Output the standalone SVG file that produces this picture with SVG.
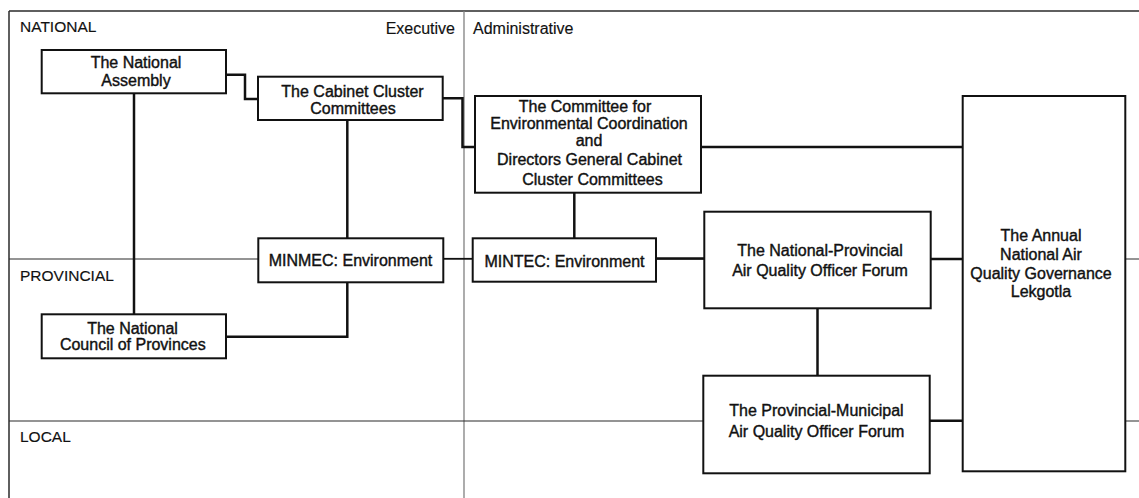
<svg xmlns="http://www.w3.org/2000/svg" width="1139" height="498" viewBox="0 0 1139 498">
  <style>
    .frame { stroke: #2a2a2a; stroke-width: 1.5; fill: none; }
    .row { stroke: #2a2a2a; stroke-width: 1.2; fill: none; }
    .divider { stroke: #808080; stroke-width: 1.3; fill: none; }
    .box { fill: #ffffff; stroke: #111111; stroke-width: 2; }
    .conn { stroke: #111111; stroke-width: 2.5; fill: none; }
    .stub { stroke: #111111; stroke-width: 1.6; fill: none; }
    .lbl { font-family: "Liberation Sans", Arial, sans-serif; font-size: 15.5px; fill: #111111; stroke: #111111; stroke-width: 0.15; }
    .lbl16 { font-family: "Liberation Sans", Arial, sans-serif; font-size: 16px; fill: #111111; stroke: #111111; stroke-width: 0.15; }
    .t { font-family: "Liberation Sans", Arial, sans-serif; font-size: 16px; fill: #111111; stroke: #111111; stroke-width: 0.4; text-anchor: middle; }
  </style>
  <rect x="0" y="0" width="1139" height="498" fill="#ffffff"/>

  <g id="frame">
    <line class="frame" x1="9" y1="11" x2="1139" y2="11"/>
    <line class="frame" x1="9" y1="11" x2="9" y2="498"/>
    <line class="divider" x1="464" y1="11" x2="464" y2="498"/>
    <line class="row" x1="9" y1="259" x2="1139" y2="259"/>
    <line class="row" x1="9" y1="421" x2="1139" y2="421"/>
    <text class="lbl" x="20" y="32.3">NATIONAL</text>
    <text class="lbl16" x="455" y="34.3" text-anchor="end">Executive</text>
    <text class="lbl16" x="473" y="34.3">Administrative</text>
    <text class="lbl" x="20" y="281">PROVINCIAL</text>
    <text class="lbl" x="20" y="441.7">LOCAL</text>
  </g>

  <g id="connectors">
    <polyline class="conn" points="226,74.7 245,74.7 245,99 258,99"/>
    <polyline class="conn" points="443,98.3 462.5,98.3 462.5,147 475,147"/>
    <line class="conn" x1="701" y1="147" x2="963" y2="147"/>
    <line class="conn" x1="134" y1="93" x2="134" y2="314"/>
    <line class="conn" x1="347.3" y1="120" x2="347.3" y2="238.3"/>
    <polyline class="conn" points="347.3,282.3 347.3,336.7 226,336.7"/>
    <line class="stub" x1="443" y1="258.7" x2="473" y2="258.7"/>
    <line class="conn" x1="574.3" y1="192.7" x2="574.3" y2="238.3"/>
    <line class="conn" x1="656" y1="258.5" x2="704.5" y2="258.5"/>
    <line class="conn" x1="930.5" y1="259" x2="963" y2="259"/>
    <line class="conn" x1="817.5" y1="308.5" x2="817.5" y2="376"/>
    <line class="conn" x1="929.5" y1="420.8" x2="963" y2="420.8"/>
  </g>

  <g id="national-assembly">
    <rect class="box" x="41.7" y="50" width="184.3" height="43.3"/>
    <text class="t" x="136" y="67.7">The National</text>
    <text class="t" x="136" y="85.5">Assembly</text>
  </g>

  <g id="cabinet-cluster">
    <rect class="box" x="258" y="76.7" width="184.7" height="43.3"/>
    <text class="t" x="352.5" y="96.7">The Cabinet Cluster</text>
    <text class="t" x="353" y="114.3">Committees</text>
  </g>

  <g id="committee-environmental-coordination">
    <rect class="box" x="475" y="96" width="226" height="96.7"/>
    <text class="t" x="585" y="112.3">The Committee for</text>
    <text class="t" x="589" y="129.3">Environmental Coordination</text>
    <text class="t" x="589" y="146">and</text>
    <text class="t" x="589.5" y="165">Directors General Cabinet</text>
    <text class="t" x="592.5" y="185">Cluster Committees</text>
  </g>

  <g id="minmec">
    <rect class="box" x="258.3" y="238.3" width="185" height="44"/>
    <text class="t" x="350.5" y="266">MINMEC: Environment</text>
  </g>

  <g id="mintec">
    <rect class="box" x="472.7" y="238.3" width="183.3" height="43.4"/>
    <text class="t" x="564.5" y="266.5">MINTEC: Environment</text>
  </g>

  <g id="ncop">
    <rect class="box" x="41.7" y="314.3" width="184.3" height="44"/>
    <text class="t" x="132.5" y="334">The National</text>
    <text class="t" x="132.8" y="349.5">Council of Provinces</text>
  </g>

  <g id="national-provincial-forum">
    <rect class="box" x="704.3" y="211.7" width="226.4" height="96.6"/>
    <text class="t" x="820" y="256">The National-Provincial</text>
    <text class="t" x="820" y="275.5">Air Quality Officer Forum</text>
  </g>

  <g id="provincial-municipal-forum">
    <rect class="box" x="703.3" y="375.7" width="226.4" height="97.6"/>
    <text class="t" x="816.5" y="416">The Provincial-Municipal</text>
    <text class="t" x="816.5" y="436.5">Air Quality Officer Forum</text>
  </g>

  <g id="annual-lekgotla">
    <rect class="box" x="962.7" y="96" width="162.6" height="375.3"/>
    <text class="t" x="1041" y="240.7">The Annual</text>
    <text class="t" x="1041" y="260">National Air</text>
    <text class="t" x="1041" y="279">Quality Governance</text>
    <text class="t" x="1041" y="297">Lekgotla</text>
  </g>
</svg>
